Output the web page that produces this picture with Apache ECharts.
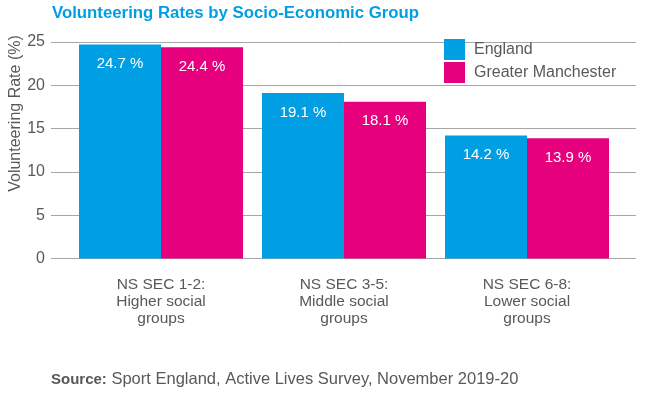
<!DOCTYPE html>
<html><head><meta charset="utf-8">
<script src="https://cdn.jsdelivr.net/npm/echarts@6/dist/echarts.min.js"></script>
<style>html,body{margin:0;padding:0;background:#fff}#c{width:645px;height:394px}</style>
</head><body><div id="c"></div>
<script>
const categories = ['NS SEC 1-2:\nHigher social\ngroups', 'NS SEC 3-5:\nMiddle social\ngroups', 'NS SEC 6-8:\nLower social\ngroups'];
const england = [24.7, 19.1, 14.2];
const greaterManchester = [24.4, 18.1, 13.9];
const yTicks = [0, 5, 10, 15, 20, 25];
const seriesNames = ['England', 'Greater Manchester'];

const FONT = 'Liberation Sans';
const GREY = '#595959';
const chart = echarts.init(document.getElementById('c'));
const labelCfg = {show: true, position: 'insideTop', distance: 12, color: '#fff', fontSize: 15, fontFamily: FONT, formatter: p => p.value.toFixed(1) + ' %'};
chart.setOption({
  animation: false,
  textStyle: {fontFamily: FONT},
  title: [
    {text: 'Volunteering Rates by Socio-Economic Group', left: 52, top: 5, padding: 0,
     textStyle: {color: '#009FE3', fontSize: 16.8, fontWeight: 'bold', fontFamily: FONT}},
    {text: '{b|Source:} Sport England, Active Lives Survey, November 2019-20', left: 51, top: 371, padding: 0,
     textStyle: {rich: {b: {fontWeight: 'bold', fontSize: 15, color: GREY, fontFamily: FONT}}, fontSize: 16.5, color: GREY, fontWeight: 'normal', fontFamily: FONT}}
  ],
  legend: {orient: 'vertical', left: 444, top: 39, padding: 0, itemWidth: 21, itemHeight: 21, itemGap: 2, icon: 'rect',
    textStyle: {fontSize: 16, color: GREY, fontFamily: FONT, padding: [0, 0, 0, 4]}, data: seriesNames},
  grid: [
    {left: 69.5, width: 549, top: 42, bottom: 135.5},
    {left: 51, right: 9, top: 42, bottom: 135.5},
    {left: 51, right: 9, top: 37, height: 153}
  ],
  xAxis: [
    {type: 'category', gridIndex: 0, data: categories, axisLine: {show: false}, axisTick: {show: false},
     axisLabel: {color: GREY, fontSize: 15.5, lineHeight: 17, margin: 18, fontFamily: FONT}},
    {type: 'value', gridIndex: 1, show: false, min: 0, max: 1},
    {type: 'value', gridIndex: 2, show: false, min: 0, max: 1}
  ],
  yAxis: [
    {type: 'value', gridIndex: 0, min: 0, max: 25, interval: 5, show: false},
    {type: 'value', gridIndex: 1, min: 0, max: 25, interval: 5, data: yTicks,
     axisLine: {show: false}, axisTick: {show: false},
     axisLabel: {color: GREY, fontSize: 16, margin: 6, fontFamily: FONT},
     splitLine: {lineStyle: {color: '#a6a6a6', width: 1}}},
    {type: 'value', gridIndex: 2, min: 0, max: 1,
     name: 'Volunteering Rate (%)', nameLocation: 'middle', nameGap: 28, nameRotate: 90,
     nameTextStyle: {color: GREY, fontSize: 16, fontFamily: FONT},
     axisLine: {show: false}, axisTick: {show: false}, axisLabel: {show: false}, splitLine: {show: false}}
  ],
  series: [
    {name: seriesNames[0], type: 'bar', xAxisIndex: 0, yAxisIndex: 0, data: england, barWidth: 82, barGap: '0%',
     itemStyle: {color: '#009FE3'}, label: labelCfg},
    {name: seriesNames[1], type: 'bar', xAxisIndex: 0, yAxisIndex: 0, data: greaterManchester, barWidth: 82, barGap: '0%',
     itemStyle: {color: '#E6007E'}, label: labelCfg}
  ]
});
</script></body></html>
